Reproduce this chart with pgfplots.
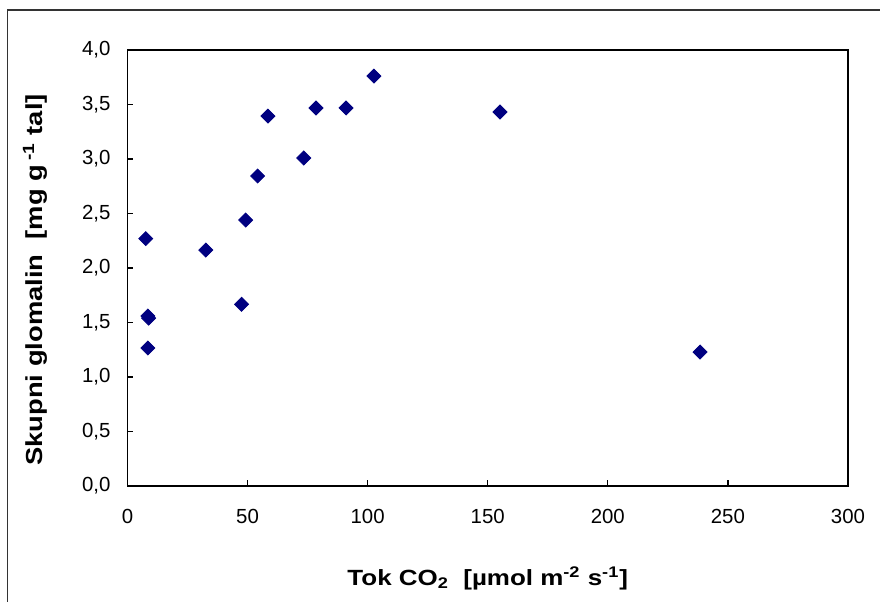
\documentclass[border=0pt]{standalone}
\usepackage{pgfplots}
\pgfplotsset{compat=1.18}
\usepackage{fontspec}
\setmainfont{Liberation Sans}
\newfontfamily\lblfont[FakeStretch=1.18]{Liberation Sans}
\definecolor{navy}{RGB}{0,0,128}
\begin{document}
\begin{tikzpicture}
\path[use as bounding box] (-63.75pt,-57.5pt) rectangle (376.25pt,243pt);
\begin{scope}
\clip (-63.75pt,-57.5pt) rectangle (376.25pt,243pt);
\draw[line width=0.6pt, black!80] (-60pt,238pt) rectangle (420pt,-100pt);
\end{scope}
\begin{axis}[
  at={(0pt,0pt)}, anchor=south west,
  width=360.25pt, height=218pt, scale only axis,
  xmin=0, xmax=300, ymin=0, ymax=4,
  xtick={0,50,...,300}, ytick={0,0.5,...,4},
  tick align=inside, tick pos=left,
  major tick length=3pt,
  axis line style={line width=0.7pt},
  every tick/.style={black, line width=0.6pt},
  /pgf/number format/assume math mode=true,
  yticklabel style={/pgf/number format/.cd, fixed, fixed zerofill, precision=1, use comma, /tikz/.cd, font=\fontsize{10.2}{12}\selectfont, xshift=-5pt},
  xticklabel style={/pgf/number format/.cd, fixed, /tikz/.cd, font=\fontsize{10.2}{12}\selectfont, yshift=-8pt},
  xlabel={Tok CO\textsubscript{2}\ \ [µmol m\textsuperscript{-2} s\textsuperscript{-1}]},
  ylabel={Skupni glomalin\ \ [mg g\,\textsuperscript{-1} tal]},
  xlabel style={font=\lblfont\fontsize{11}{13}\selectfont\bfseries, at={(axis description cs:0.5,-0.211)}, anchor=center},
  ylabel style={font=\lblfont\fontsize{11.6}{14}\selectfont\bfseries, at={(axis description cs:-0.128,0.4725)}, anchor=center},
  clip=false,
]
\addplot[only marks, mark=square*, mark size=2.47pt, mark options={rotate=45, fill=navy, draw=navy}] coordinates {
(7.6,2.27) (8.5,1.56) (8.8,1.54) (8.5,1.266) (32.6,2.165) (47.5,1.667) (49.2,2.44)
(54.2,2.844) (58.5,3.394) (73.4,3.009) (78.5,3.468) (91.0,3.468) (102.6,3.761)
(155.1,3.431) (238.4,1.229)
};
\end{axis}
\end{tikzpicture}
\end{document}
